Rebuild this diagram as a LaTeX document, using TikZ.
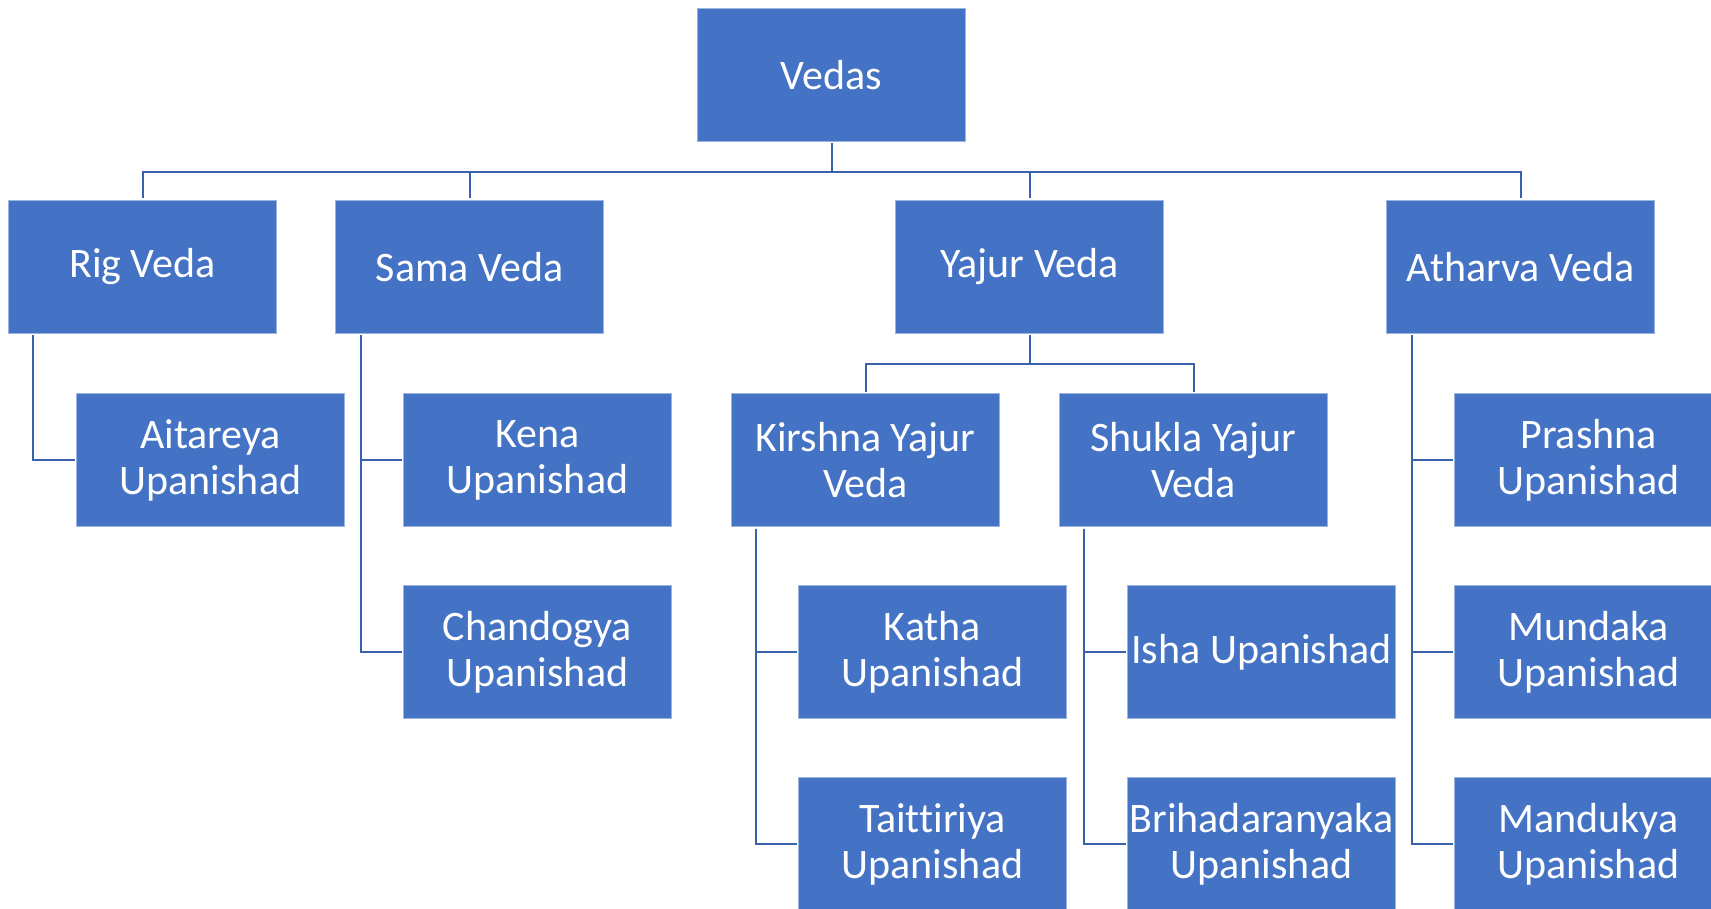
\documentclass[tikz,border=0pt]{standalone}
\usepackage{fontspec}
\setmainfont[Ligatures={TeX,NoCommon}]{Carlito}
\usetikzlibrary{calc}
\definecolor{boxfill}{HTML}{4472C4}
\definecolor{boxline}{HTML}{9DB3E0}
\definecolor{conn}{HTML}{3A62AC}
\tikzset{
  vbox/.style={draw=boxline, line width=1pt, fill=boxfill, text=white, anchor=north west,
    minimum width=268pt, minimum height=133pt, inner sep=0pt, align=center,
    font=\fontsize{42}{46}\selectfont},
  link/.style={draw=conn, line width=2pt, shorten <=1.5pt, shorten >=1.5pt}
}
\begin{document}
\begin{tikzpicture}[x=1pt,y=-1pt]
\useasboundingbox (0,0) rectangle (1711,909);
\clip (0,0) rectangle (1711,909);
\node[vbox] (vedas) at (697,8) {Vedas};
\node[vbox] (rig) at (8,200) {Rig Veda};
\node[vbox] (sama) at (335,200) {Sama Veda};
\node[vbox] (yajur) at (895,200) {Yajur Veda};
\node[vbox] (atharva) at (1386,200) {Atharva Veda};
\node[vbox] (aitareya) at (76,393) {Aitareya\\Upanishad};
\node[vbox] (kena) at (403,393) {Kena\\Upanishad};
\node[vbox] (kirshna) at (731,393) {Kirshna Yajur\\Veda};
\node[vbox] (shukla) at (1059,393) {Shukla Yajur\\Veda};
\node[vbox] (prashna) at (1454,393) {Prashna\\Upanishad};
\node[vbox] (chandogya) at (403,585) {Chandogya\\Upanishad};
\node[vbox] (katha) at (798,585) {Katha\\Upanishad};
\node[vbox] (isha) at (1127,585) {Isha Upanishad};
\node[vbox] (mundaka) at (1454,585) {Mundaka\\Upanishad};
\node[vbox] (taittiriya) at (798,777) {Taittiriya\\Upanishad};
\node[vbox] (brihad) at (1127,777) {Brihadaranyaka\\Upanishad};
\node[vbox] (mandukya) at (1454,777) {Mandukya\\Upanishad};
% top level
\coordinate (bus) at ($(vedas.south)+(0,30)$);
\foreach \c in {rig,sama,yajur,atharva}{
  \draw[link] (vedas.south) -- (bus) -| (\c.north);
}
% yajur split
\coordinate (ybus) at ($(yajur.south)+(0,30)$);
\foreach \c in {kirshna,shukla}{
  \draw[link] (yajur.south) -- (ybus) -| (\c.north);
}
% side lines
\draw[link] ($(rig.south west)+(25,0)$) |- (aitareya.west);
\draw[link] ($(sama.south west)+(26,0)$) |- (kena.west);
\draw[link] ($(sama.south west)+(26,0)$) |- (chandogya.west);
\draw[link] ($(kirshna.south west)+(25,0)$) |- (katha.west);
\draw[link] ($(kirshna.south west)+(25,0)$) |- (taittiriya.west);
\draw[link] ($(shukla.south west)+(25,0)$) |- (isha.west);
\draw[link] ($(shukla.south west)+(25,0)$) |- (brihad.west);
\draw[link] ($(atharva.south west)+(26,0)$) |- (prashna.west);
\draw[link] ($(atharva.south west)+(26,0)$) |- (mundaka.west);
\draw[link] ($(atharva.south west)+(26,0)$) |- (mandukya.west);
\end{tikzpicture}
\end{document}
